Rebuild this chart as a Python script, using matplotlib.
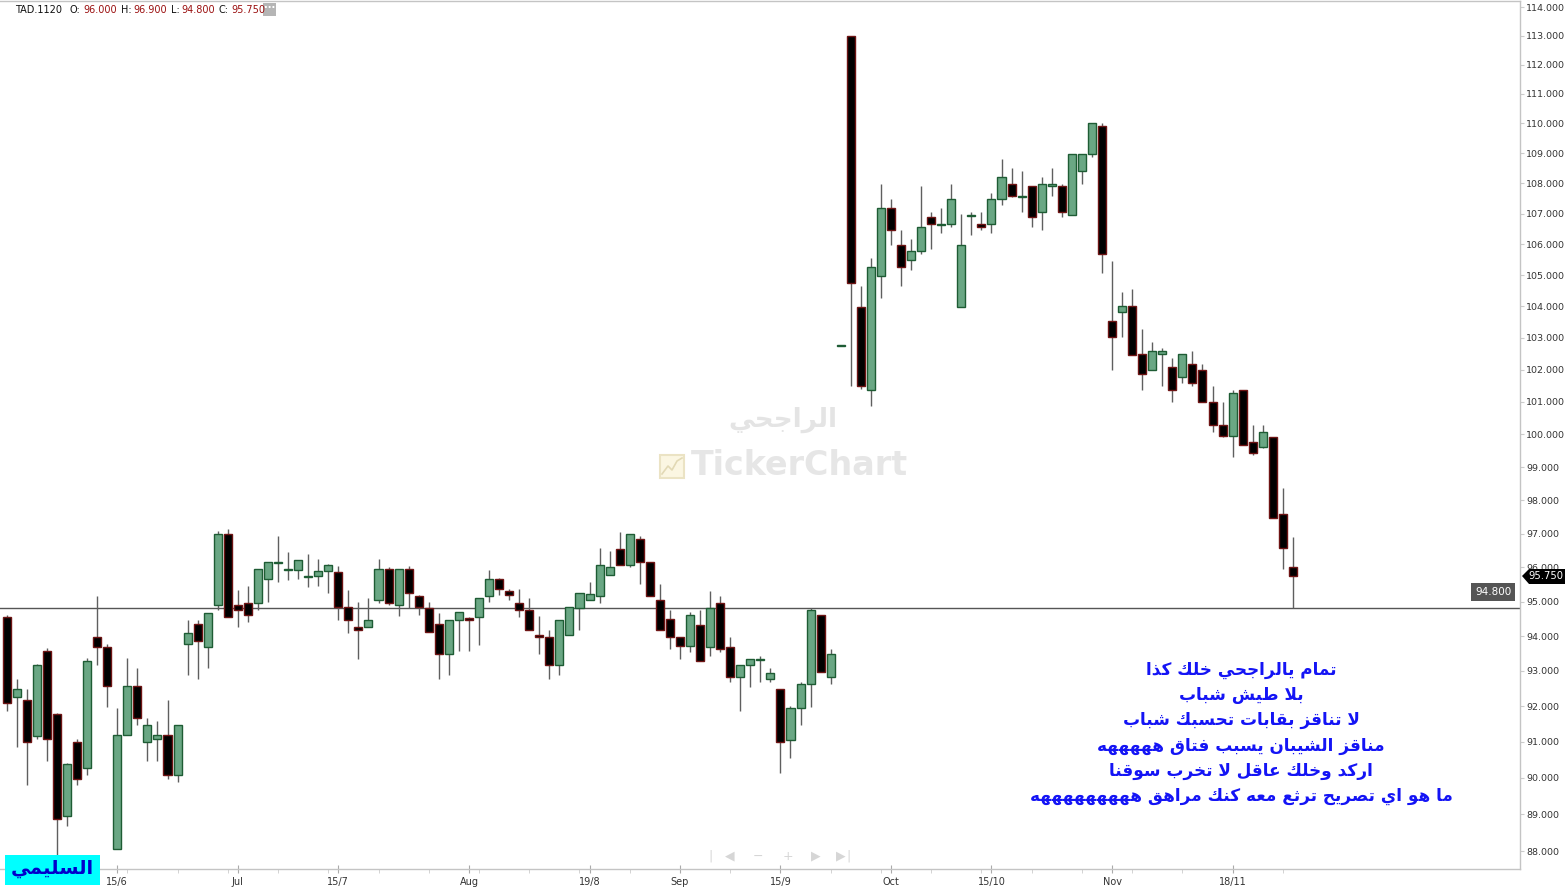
import matplotlib
matplotlib.use("Agg")
import matplotlib.pyplot as plt
from matplotlib.ticker import FixedLocator, NullLocator, FuncFormatter
from matplotlib.patches import Rectangle, Polygon
import numpy as np

# OHLC (daily candles, TAD.1120)
opens = [94.55, 92.27, 92.17, 91.17, 93.58, 91.78, 88.96, 90.99, 90.28, 93.98,
         93.68, 88.07, 91.18, 92.58, 90.99, 91.08, 91.19, 90.07, 93.77, 94.36,
         93.68, 94.90, 96.98, 94.90, 94.96, 94.96, 95.66, 96.13, 95.92, 95.91,
         95.73, 95.76, 95.90, 95.86, 94.85, 94.27, 94.27, 95.06, 95.96, 94.90,
         95.96, 95.17, 94.80, 94.36, 93.48, 94.47, 94.51, 94.56, 95.16, 95.67,
         95.31, 94.96, 94.76, 94.02, 93.97, 93.18, 94.02, 94.80, 95.06, 95.16,
         95.77, 96.53, 96.07, 96.84, 96.17, 95.06, 94.50, 93.97, 93.72, 94.33,
         93.68, 94.96, 93.68, 92.84, 93.18, 93.30, 92.78, 92.48, 91.04, 91.96,
         92.64, 94.61, 92.84, 102.75, 113.00, 103.99, 101.38, 104.96, 107.18, 105.99,
         105.48, 105.79, 106.89, 106.63, 106.67, 103.99, 106.93, 106.67, 106.67, 107.49,
         107.99, 107.54, 107.90, 107.07, 107.90, 107.90, 106.97, 108.40, 108.99, 109.91,
         103.55, 103.81, 104.02, 102.48, 101.98, 102.48, 102.08, 101.77, 102.18, 101.98,
         100.98, 100.27, 99.96, 101.38, 99.77, 99.62, 99.92, 97.59, 96.00]
highs = [94.60, 92.77, 92.48, 93.20, 93.67, 91.80, 90.40, 91.08, 93.38, 95.15,
         93.77, 91.96, 93.38, 93.08, 91.68, 91.58, 92.17, 91.48, 94.45, 94.45,
         94.67, 97.07, 97.14, 95.35, 95.45, 95.96, 96.16, 96.94, 96.46, 96.21,
         96.41, 96.26, 96.11, 96.05, 95.34, 95.00, 95.11, 96.26, 96.00, 95.96,
         96.05, 95.20, 95.00, 94.66, 94.47, 94.71, 94.54, 95.11, 95.91, 95.70,
         95.36, 95.36, 95.11, 94.57, 94.17, 94.47, 94.85, 95.26, 95.56, 96.57,
         96.47, 97.04, 96.99, 96.94, 96.17, 95.51, 94.76, 93.97, 94.71, 94.76,
         95.31, 95.16, 93.97, 93.18, 93.33, 93.43, 93.08, 92.48, 92.01, 92.68,
         94.80, 94.61, 93.63, 102.77, 113.00, 104.65, 105.56, 107.99, 107.47, 106.46,
         106.18, 107.90, 107.07, 107.18, 107.99, 106.98, 107.07, 107.07, 107.68, 108.80,
         108.50, 108.40, 107.90, 108.20, 108.50, 107.99, 108.99, 108.99, 110.02, 110.00,
         105.47, 104.45, 104.55, 103.27, 102.87, 102.68, 102.37, 102.48, 102.58, 102.18,
         101.48, 100.98, 101.38, 101.38, 100.27, 100.27, 99.92, 98.36, 96.90]
lows = [91.87, 90.87, 89.79, 91.08, 90.48, 87.90, 88.68, 89.79, 90.08, 93.18,
        91.98, 88.07, 91.18, 91.48, 90.48, 90.48, 89.98, 89.88, 92.88, 92.78,
        93.08, 94.76, 94.56, 94.27, 94.42, 94.76, 95.00, 95.57, 95.62, 95.66,
        95.42, 95.46, 95.26, 94.45, 94.08, 93.33, 94.27, 94.96, 94.91, 94.57,
        94.80, 94.60, 94.11, 92.78, 92.88, 93.58, 93.58, 93.73, 95.00, 95.20,
        95.06, 94.56, 94.17, 93.48, 92.78, 92.88, 94.02, 94.17, 95.06, 94.96,
        95.77, 96.07, 96.02, 95.52, 95.16, 94.17, 93.63, 93.33, 93.53, 93.28,
        93.43, 93.53, 92.69, 91.87, 92.53, 92.69, 92.69, 90.13, 90.54, 91.48,
        91.98, 92.98, 92.64, 102.75, 101.48, 101.40, 100.87, 104.27, 105.99, 104.65,
        105.17, 105.68, 105.86, 106.37, 106.57, 103.99, 106.29, 106.46, 106.37, 107.27,
        107.54, 107.07, 106.57, 106.47, 107.57, 106.89, 106.97, 107.99, 108.89, 105.06,
        101.98, 103.03, 102.47, 101.38, 101.98, 101.48, 100.98, 101.58, 101.48, 100.98,
        100.07, 99.92, 99.32, 99.67, 99.38, 99.57, 97.48, 95.96, 94.80]
closes = [92.08, 92.48, 90.99, 93.18, 91.07, 88.86, 90.38, 89.98, 93.28, 93.68,
          92.58, 91.18, 92.58, 91.68, 91.48, 91.19, 90.07, 91.48, 94.08, 93.87,
          94.67, 96.98, 94.56, 94.76, 94.61, 95.96, 96.16, 96.16, 95.95, 96.21,
          95.76, 95.90, 96.06, 94.85, 94.46, 94.17, 94.47, 95.96, 94.96, 95.96,
          95.26, 94.85, 94.11, 93.48, 94.47, 94.71, 94.45, 95.11, 95.67, 95.36,
          95.20, 94.76, 94.17, 93.97, 93.18, 94.47, 94.85, 95.26, 95.21, 96.07,
          96.02, 96.07, 96.99, 96.17, 95.16, 94.17, 93.97, 93.72, 94.61, 93.28,
          94.80, 93.63, 92.84, 93.18, 93.33, 93.33, 92.93, 91.00, 91.96, 92.64,
          94.76, 92.98, 93.48, 102.77, 104.75, 101.48, 105.26, 107.18, 106.46, 105.26,
          105.79, 106.57, 106.67, 106.67, 107.49, 105.99, 106.97, 106.56, 107.49, 108.20,
          107.57, 107.57, 106.88, 107.99, 107.99, 107.07, 108.99, 108.99, 110.02, 105.68,
          103.03, 104.02, 102.47, 101.88, 102.58, 102.58, 101.38, 102.48, 101.58, 100.98,
          100.27, 99.96, 101.27, 99.67, 99.42, 100.06, 97.48, 96.57, 95.75]

date_labels = ['15/6', 'Jul', '15/7', 'Aug', '19/8', 'Sep', '15/9', 'Oct', '15/10', 'Nov', '18/11']
date_idx = [11, 23, 33, 46, 58, 67, 77, 88, 98, 110, 122]
price_ticks = list(range(88, 115))
last_low = 94.80
last_close = 95.75

comment_lines = [
    "تمام يالراجحي خلك كذا",
    "بلا طيش شباب",
    "لا تناقز بقابات تحسبك شباب",
    "مناقز الشيبان يسبب فتاق هههههه",
    "اركد وخلك عاقل لا تخرب سوقنا",
    "ما هو اي تصريح ترثع معه كنك مراهق هههههههههه",
]
watermark_ar = "الراجحي"
author = "السليمي"

# --- simple Arabic shaping (matplotlib has no shaping / RTL) ---
_right_join = {0x0622, 0x0623, 0x0624, 0x0625, 0x0627, 0x0629, 0x062F,
               0x0630, 0x0631, 0x0632, 0x0648, 0x0649}
_forms = {}
_code = 0xFE80
for _ch in [0x0621] + list(range(0x0622, 0x063B)) + list(range(0x0641, 0x064B)):
    _n = 1 if _ch == 0x0621 else (2 if _ch in _right_join else 4)
    _forms[chr(_ch)] = [chr(_code + k) for k in range(_n)]
    _code += _n
_lam_alef = {'\u0622': ('\uFEF5', '\uFEF6'), '\u0623': ('\uFEF7', '\uFEF8'),
             '\u0625': ('\uFEF9', '\uFEFA'), '\u0627': ('\uFEFB', '\uFEFC')}


def ar(text):
    out = []
    i, n = 0, len(text)
    while i < n:
        c = text[i]
        if c not in _forms:
            out.append(c)
            i += 1
            continue
        prev = text[i - 1] if i > 0 else ''
        prev_j = prev in _forms and len(_forms[prev]) == 4
        if c == '\u0644' and i + 1 < n and text[i + 1] in _lam_alef:
            iso, fin = _lam_alef[text[i + 1]]
            out.append(fin if prev_j else iso)
            i += 2
            continue
        nxt = text[i + 1] if i + 1 < n else ''
        next_j = nxt in _forms
        f = _forms[c]
        if len(f) == 4:
            if prev_j and next_j:
                g = f[3]
            elif prev_j:
                g = f[1]
            elif next_j:
                g = f[2]
            else:
                g = f[0]
        elif len(f) == 2:
            g = f[1] if prev_j else f[0]
        else:
            g = f[0]
        out.append(g)
        i += 1
    return ''.join(out)[::-1]


W, H = 1567, 891
fig = plt.figure(figsize=(W / 100, H / 100), dpi=100)
ax = fig.add_axes([0, 22 / H, 1520 / W, (H - 22 - 1) / H])

x = np.arange(len(opens))
o = np.array(opens)
c = np.array(closes)
up = c >= o

ax.vlines(x, lows, highs, color='#5f5f5f', lw=1, zorder=2)
ax.bar(x[up], (c - o)[up], bottom=o[up], width=0.8,
       color='#6aa784', edgecolor='#1e5c34', lw=1, zorder=3)
ax.bar(x[~up], (o - c)[~up], bottom=c[~up], width=0.8,
       color='black', edgecolor='#6e1414', lw=1, zorder=3)

ax.axhline(last_low, color='#555555', lw=1, zorder=1.5)

ax.set_yscale('log')
ax.set_ylim(87.52, 114.21)
ax.set_xlim(-0.67, 150.6)
ax.yaxis.set_major_locator(FixedLocator(price_ticks))
ax.yaxis.set_minor_locator(NullLocator())
ax.yaxis.set_major_formatter(FuncFormatter(lambda v, p: f"{v:.3f}"))
ax.yaxis.tick_right()
ax.tick_params(axis='y', labelsize=6.8, colors='#cccccc', labelcolor='#333333',
               length=3, pad=1.5)

ax.xaxis.set_major_locator(FixedLocator(date_idx))
ax.set_xticklabels(date_labels)
minor = [i for i in range(2, 129, 5) if i not in date_idx]
ax.xaxis.set_minor_locator(FixedLocator(minor))
ax.tick_params(axis='x', which='major', labelsize=7, colors='#aaaaaa',
               labelcolor='#333333', length=6, direction='inout', pad=3)
ax.tick_params(axis='x', which='minor', colors='#cccccc', length=3, direction='out')

for s in ['left']:
    ax.spines[s].set_visible(False)
for s in ['right', 'bottom', 'top']:
    ax.spines[s].set_color('#c4c4c4')
    ax.spines[s].set_linewidth(1)


def fx(px):
    return px / W


def fy(py):
    return 1 - py / H


# header
hdr = [(15, 'TAD.1120', '#111111'), (69, 'O:', '#111111'), (83, '96.000', '#9b1010'),
       (121, 'H:', '#111111'), (133, '96.900', '#9b1010'), (171, 'L:', '#111111'),
       (181, '94.800', '#9b1010'), (219, 'C:', '#111111'), (231, '95.750', '#9b1010')]
for px, t, col in hdr:
    fig.text(fx(px), fy(10), t, color=col, fontsize=7, va='center', ha='left')
fig.add_artist(Rectangle((fx(263), fy(16)), 13 / W, 13 / H, transform=fig.transFigure,
                         facecolor='#b5b5b5', edgecolor='none'))
fig.text(fx(269.5), fy(8), '···', color='white', fontsize=7, ha='center', va='center',
         fontweight='bold')

# watermark
fig.text(fx(783), fy(420), ar(watermark_ar), fontsize=19, fontweight='bold',
         color='#e4e4e4', ha='center', va='center', family='DejaVu Sans')
fig.text(fx(799), fy(466), 'TickerChart', fontsize=24, fontweight='bold',
         color='#e6e6e6', ha='center', va='center')
fig.add_artist(Rectangle((fx(660), fy(478)), 24 / W, 23 / H, transform=fig.transFigure,
                         facecolor='#fbf6e2', edgecolor='#ebe3c4', lw=1.5))
fig.add_artist(plt.Line2D([fx(662), fx(668), fx(672), fx(677), fx(682)],
                          [fy(474), fy(466), fy(470), fy(461), fy(458)],
                          transform=fig.transFigure, color='#e2d9b5', lw=1.2))

# last price labels
fig.text(fx(1493), fy(592), '94.800', color='white', fontsize=7.5, ha='center', va='center',
         bbox=dict(boxstyle='square,pad=0.35', facecolor='#555555', edgecolor='none'))
fig.add_artist(Polygon([(fx(1522), fy(576)), (fx(1529), fy(569)), (fx(1565), fy(569)),
                        (fx(1565), fy(584)), (fx(1529), fy(584))],
                       closed=True, transform=fig.transFigure, facecolor='black',
                       edgecolor='none'))
fig.text(fx(1546), fy(576), f"{last_close:.3f}", color='white', fontsize=7.2,
         ha='center', va='center')

# navigation icons
for px, t in [(711, '|'), (730, '◀'), (758, '−'), (788, '+'), (816, '▶'), (841, '▶'), (848, '|')]:
    fig.text(fx(px), fy(856), t, color='#d6d6d6', fontsize=9, ha='center', va='center')

# comment block
for k, line in enumerate(comment_lines):
    fig.text(fx(1241), fy(670 + k * 25.2), ar(line), fontsize=12.2, fontweight='bold',
             color='#1414f5', ha='center', va='center', family='DejaVu Sans')

# author tag
fig.add_artist(Rectangle((fx(5), fy(885)), 95 / W, 30 / H, transform=fig.transFigure,
                         facecolor='#00ffff', edgecolor='none', zorder=5))
fig.text(fx(52), fy(868), ar(author), fontsize=14, fontweight='bold', color='#0000cc',
         ha='center', va='center', family='DejaVu Sans', zorder=6)

fig.savefig('out.png', dpi=100, facecolor='white')
